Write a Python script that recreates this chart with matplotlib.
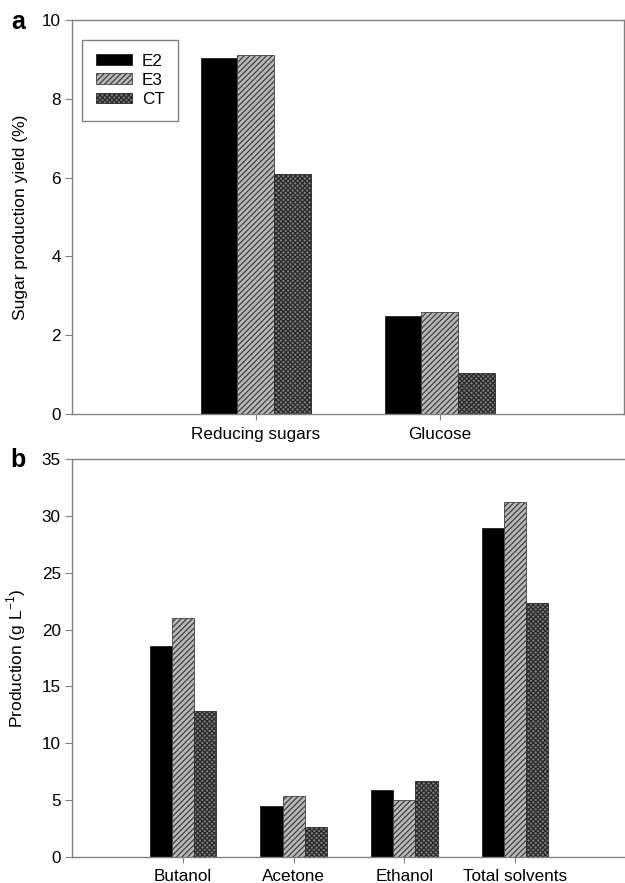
import matplotlib
matplotlib.use("Agg")
import matplotlib.pyplot as plt
import numpy as np

plt.rcParams['font.family'] = ['Liberation Sans', 'DejaVu Sans']
plt.rcParams['hatch.linewidth'] = 0.9

series = ["E2", "E3", "CT"]

cats_a = ["Reducing sugars", "Glucose"]
a_E2 = [9.03, 2.50]
a_E3 = [9.11, 2.60]
a_CT = [6.10, 1.03]

cats_b = ["Butanol", "Acetone", "Ethanol", "Total solvents"]
b_E2 = [18.6, 4.5, 5.9, 28.9]
b_E3 = [21.0, 5.35, 5.0, 31.2]
b_CT = [12.8, 2.6, 6.7, 22.3]

styles = [
    dict(facecolor="#000000", edgecolor="#202020", hatch=None),
    dict(facecolor="#b8b8b8", edgecolor="#404040", hatch="//////"),
    dict(facecolor="#7a7a7a", edgecolor="#2a2a2a", hatch="xxxxxxx"),
]

spine_col = "#808080"
FS = 12.3

fig = plt.figure(figsize=(6.25, 8.83), dpi=100)
ax_a = fig.add_axes([0.1152, 0.5311, 0.8824, 0.4462])
ax_b = fig.add_axes([0.1152, 0.02945, 0.8864, 0.4507])

def draw(ax, cats, data, width):
    x = np.arange(1, len(cats) + 1)
    for i, (name, vals) in enumerate(zip(series, data)):
        st = styles[i]
        ax.bar(x + (i - 1) * width, vals, width, label=name,
               facecolor=st["facecolor"], edgecolor=st["edgecolor"],
               hatch=st["hatch"], linewidth=0.6)
    ax.set_xticks(x)
    ax.set_xticklabels(cats, fontsize=FS)
    ax.set_xlim(0, len(cats) + 1)
    for s in ax.spines.values():
        s.set_color(spine_col)
        s.set_linewidth(1.0)
    ax.tick_params(axis='y', direction='out', length=5, color=spine_col, labelsize=FS, pad=3)
    ax.tick_params(axis='x', direction='out', length=4, color=spine_col, labelsize=FS, pad=5)

draw(ax_a, cats_a, [a_E2, a_E3, a_CT], 0.2)
ax_a.set_ylim(0, 10)
ax_a.set_yticks([0, 2, 4, 6, 8, 10])
ax_a.set_ylabel("Sugar production yield (%)", fontsize=12.5, labelpad=10)
leg = ax_a.legend(loc="upper left", bbox_to_anchor=(0.018, 0.949), borderaxespad=0,
                  fontsize=FS, handlelength=2.15, handleheight=0.6, labelspacing=0.24,
                  handletextpad=0.55, borderpad=0.8, fancybox=False, framealpha=1)
leg.get_frame().set_edgecolor(spine_col)
leg.get_frame().set_linewidth(1.0)

draw(ax_b, cats_b, [b_E2, b_E3, b_CT], 0.2)
ax_b.set_ylim(0, 35)
ax_b.set_yticks([0, 5, 10, 15, 20, 25, 30, 35])
ax_b.set_ylabel("Production (g L$^{\\mathregular{-1}}$)", fontsize=12.5, labelpad=10)
ax_b.spines['right'].set_visible(False)

fig.text(18 / 625, 1 - 22 / 883, "a", fontsize=18, fontweight="bold", ha="center", va="center")
fig.text(18 / 625, 1 - 460 / 883, "b", fontsize=18, fontweight="bold", ha="center", va="center")

fig.savefig("out.png", dpi=100)
